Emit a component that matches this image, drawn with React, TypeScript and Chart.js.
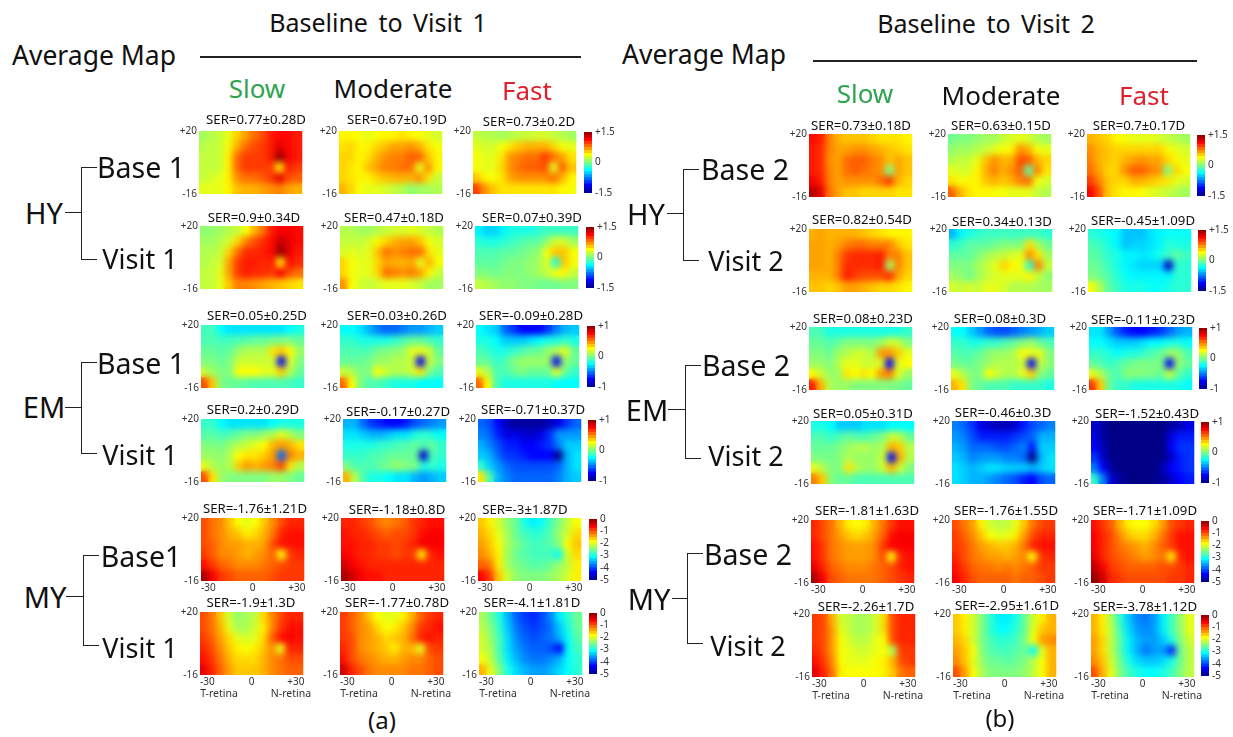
import React, { useEffect, useRef } from "react";
import { Chart, registerables } from "chart.js";
Chart.register(...registerables);

const FONT = '"Noto Sans", sans-serif';
const xCells = [-32.1, -26.25, -20.4, -14.6, -8.75, -2.9, 2.9, 8.75, 14.6, 20.4, 26.25, 32.1];
const yCells = [17, 11, 5, -1, -7, -13];

const hyLevels = [-1.5, -1.35, -1.2, -1.05, -0.9, -0.75, -0.6, -0.45, -0.3, -0.15, 0, 0.15, 0.3, 0.45, 0.6, 0.75, 0.9, 1.05, 1.2, 1.35, 1.5];
const emLevels = [-1, -0.9, -0.8, -0.7, -0.6, -0.5, -0.4, -0.3, -0.2, -0.1, 0, 0.1, 0.2, 0.3, 0.4, 0.5, 0.6, 0.7, 0.8, 0.9, 1];
const myLevels = [-5, -4.75, -4.5, -4.25, -4, -3.75, -3.5, -3.25, -3, -2.75, -2.5, -2.25, -2, -1.75, -1.5, -1.25, -1, -0.75, -0.5, -0.25, 0];
const hyTicks = [1.5, 0, -1.5];
const emTicks = [1, 0, -1];
const myTicks = [0, -1, -2, -3, -4, -5];

const a1 = [[.1,.15,.2,.3,.5,.65,.8,.9,1.05,1.1,1.1,1.05],[.15,.2,.2,.35,.6,.8,.9,.95,1.05,1.2,1.1,1.05],[.2,.2,.2,.4,.8,.95,.95,.95,1.05,1.45,1.15,1.05],[.2,.2,.2,.4,.8,.95,.95,.95,.95,.45,1.05,.95],[.2,.25,.3,.4,.7,.8,.8,.85,.95,1.2,.9,.85],[.3,.3,.3,.4,.55,.6,.6,.65,.7,.75,.65,.6]];
const a2 = [[.4,.4,.35,.3,.35,.4,.4,.45,.4,.35,.3,.25],[.45,.5,.4,.4,.5,.55,.65,.65,.7,.6,.45,.35],[.5,.5,.4,.45,.6,.7,.75,.75,.85,.85,.55,.4],[.5,.45,.4,.55,.65,.75,.75,.8,.8,.3,.7,.4],[.5,.45,.4,.4,.5,.55,.6,.6,.6,.7,.45,.2],[.6,.5,.35,.3,.3,.25,.2,.15,.05,.1,.1,.15]];
const a3 = [[.2,.15,.15,.1,.15,.2,.2,.25,.25,.2,.15,.1],[.3,.25,.25,.35,.45,.55,.6,.6,.6,.5,.35,.3],[.35,.3,.3,.45,.7,.75,.8,.8,.95,.8,.65,.45],[.35,.3,.3,.5,.7,.8,.85,.85,.9,.3,.85,.55],[.55,.4,.35,.45,.65,.7,.7,.7,.7,.8,.6,.4],[.95,.7,.55,.45,.45,.45,.45,.45,.45,.45,.4,.35]];
const a4 = [[.05,.05,.1,.15,.2,.35,.6,.8,1.05,1.15,1.15,1.1],[.1,.1,.15,.25,.5,.75,.9,1,1.1,1.3,1.2,1.1],[.15,.15,.2,.5,.8,1,1,1.05,1.1,1.45,1.2,1.05],[.15,.2,.25,.65,.95,1.05,1.05,1,1.05,.45,1.1,1],[.2,.2,.3,.65,.95,1.05,1,1,.95,1.15,.9,.8],[.2,.2,.3,.55,.75,.75,.7,.65,.6,.55,.5,.45]];
const a5 = [[.15,.15,.1,.1,.15,.2,.25,.25,.3,.25,.2,.15],[.2,.2,.2,.25,.4,.5,.6,.65,.65,.55,.35,.25],[.25,.3,.25,.3,.55,.8,.7,.75,.8,.8,.45,.3],[.5,.35,.3,.3,.5,.65,.6,.6,.65,.3,.6,.35],[.5,.35,.3,.3,.5,.8,.75,.7,.75,.65,.4,.2],[.7,.35,.25,.2,.25,.3,.3,.3,.25,.2,.1,.1]];
const a6 = [[-.4,-.5,-.5,-.4,-.3,-.3,-.3,-.25,-.2,-.2,-.2,-.2],[-.25,-.3,-.3,-.25,-.2,-.15,-.1,-.1,.05,.25,.25,.1],[-.15,-.15,-.15,-.1,-.1,-.05,0,.05,.35,.55,.55,.35],[-.1,-.1,-.1,-.05,0,0,.05,.1,.3,-.3,.55,.35],[0,0,-.05,0,0,0,.05,.1,.2,.35,.4,.2],[.2,.15,.1,.05,.05,0,0,-.05,-.05,-.05,0,0]];
const a7 = [[-.12,-.12,-.25,-.3,-.3,-.3,-.3,-.3,-.3,-.3,-.25,-.2],[-.1,-.1,-.12,-.12,-.1,-.08,-.05,-.05,-.02,0,0,-.05],[-.05,-.05,-.08,-.05,.05,.1,.1,.1,.3,.35,.25,.05],[0,0,-.05,0,.15,.15,.15,.15,.15,-.75,.2,0],[.15,.05,0,0,.25,.25,.25,.2,.2,.35,.1,-.05],[.6,.35,0,-.05,-.05,-.08,-.1,-.1,-.1,-.1,-.12,-.15]];
const a8 = [[-.25,-.25,-.3,-.4,-.5,-.55,-.55,-.5,-.45,-.45,-.4,-.35],[-.15,-.15,-.2,-.2,-.2,-.2,-.15,-.1,-.05,-.05,-.1,-.15],[-.1,-.1,-.1,-.1,-.02,0,.02,.05,.2,.2,.15,-.05],[-.05,-.05,-.05,-.02,.05,.05,.1,.1,.15,-.75,.15,0],[.15,.1,0,0,.25,.15,.1,.1,.15,.3,0,-.1],[.55,.25,0,-.1,-.1,-.15,-.2,-.2,-.2,-.25,-.25,-.25]];
const a9 = [[-.25,-.3,-.35,-.55,-.65,-.75,-.75,-.75,-.65,-.5,-.4,-.35],[-.2,-.2,-.25,-.35,-.35,-.35,-.3,-.25,-.2,-.2,-.15,-.2],[-.1,-.15,-.2,-.2,-.15,-.1,-.05,-.05,.05,.1,.2,-.05],[-.05,-.05,-.15,-.1,0,.05,.05,.05,.05,-.75,.05,-.05],[.2,.1,-.1,-.1,-.05,0,-.05,-.05,-.05,.2,-.05,-.15],[.55,.25,-.1,-.2,-.2,-.2,-.2,-.2,-.2,-.25,-.25,-.25]];
const a10 = [[-.15,-.15,-.25,-.3,-.3,-.3,-.3,-.3,-.25,-.2,-.2,-.2],[-.08,-.08,-.12,-.1,-.05,0,0,.05,.1,.2,.1,0],[0,0,-.02,.05,.1,.15,.2,.25,.4,.45,.4,.3],[.05,.05,.02,.1,.25,.3,.3,.35,.45,-.55,.5,.4],[.2,.1,.05,.1,.35,.45,.4,.45,.5,.6,.3,.1],[.6,.3,.05,0,0,0,0,0,.05,.05,0,-.05]];
const a11 = [[-.4,-.4,-.55,-.65,-.7,-.75,-.75,-.7,-.6,-.55,-.5,-.45],[-.3,-.3,-.35,-.4,-.4,-.35,-.3,-.3,-.2,-.15,-.2,-.25],[-.2,-.2,-.2,-.2,-.15,-.15,-.1,-.1,-.05,-.1,-.05,-.15],[-.15,-.15,-.15,-.1,-.1,-.05,-.05,-.05,-.05,-.85,-.1,-.15],[0,-.1,-.1,-.1,-.05,0,.05,0,0,-.2,-.15,-.2],[.4,.1,-.1,-.2,-.2,-.25,-.3,-.3,-.4,-.45,-.4,-.35]];
const a12 = [[-.55,-.6,-.75,-.9,-.95,-.95,-.95,-.95,-.9,-.8,-.65,-.55],[-.5,-.55,-.7,-.8,-.8,-.85,-.85,-.8,-.65,-.45,-.45,-.45],[-.4,-.5,-.6,-.7,-.7,-.75,-.75,-.7,-.65,-.5,-.35,-.35],[-.35,-.4,-.55,-.65,-.65,-.7,-.75,-.75,-.75,-1,-.4,-.3],[-.15,-.35,-.45,-.55,-.6,-.6,-.6,-.6,-.6,-.55,-.4,-.3],[.3,-.1,-.4,-.5,-.55,-.55,-.55,-.55,-.55,-.5,-.4,-.35]];
const a13 = [[-1,-1.2,-1.3,-1.6,-1.9,-2,-1.9,-1.6,-1.3,-1,-.8,-.8],[-1,-1.2,-1.3,-1.5,-1.6,-1.8,-1.7,-1.5,-1.2,-.8,-.7,-.7],[-1,-1.1,-1.3,-1.4,-1.4,-1.5,-1.5,-1.4,-1,-.7,-.7,-.7],[-.9,-1.1,-1.3,-1.3,-1.4,-1.5,-1.4,-1.3,-1.1,-1.9,-.9,-.8],[-.7,-.9,-1.1,-1.2,-1.3,-1.3,-1.3,-1.2,-1.1,-1,-.9,-.9],[-.2,-.6,-.9,-1,-1.1,-1.1,-1.1,-1.1,-1,-.9,-.9,-.9]];
const a14 = [[-.8,-.8,-.9,-1,-1.2,-1.3,-1.2,-1.1,-.9,-.8,-.7,-.7],[-.7,-.8,-.8,-.9,-1,-1.1,-1,-1,-.9,-.7,-.6,-.6],[-.7,-.7,-.8,-.8,-.9,-.9,-1,-.9,-.8,-.6,-.6,-.6],[-.6,-.7,-.8,-.8,-.9,-.9,-1,-.9,-.9,-1.8,-.8,-.7],[-.4,-.6,-.7,-.8,-.8,-.8,-.8,-.8,-.8,-.8,-.8,-.8],[-.2,-.4,-.6,-.7,-.7,-.8,-.8,-.8,-.8,-.8,-.8,-.8]];
const a15 = [[-1.6,-1.8,-2.1,-2.4,-2.6,-3,-3.2,-3.1,-2.8,-2.5,-2.2,-1.9],[-1.5,-1.7,-2,-2.3,-2.6,-2.8,-2.9,-2.9,-2.7,-2.4,-2.1,-1.7],[-1.4,-1.6,-1.9,-2.3,-2.5,-2.7,-2.8,-2.8,-2.7,-2.5,-1.9,-1.6],[-1.3,-1.5,-1.8,-2.3,-2.6,-2.7,-2.8,-2.8,-2.8,-3.1,-2.1,-1.7],[-1.1,-1.2,-1.8,-2.3,-2.5,-2.6,-2.7,-2.7,-2.6,-2.4,-2.2,-1.8],[-.6,-.9,-1.6,-2.1,-2.4,-2.5,-2.5,-2.5,-2.4,-2.3,-2.1,-1.8]];
const a16 = [[-1,-1.2,-1.6,-2.1,-2.4,-2.3,-2.2,-1.7,-1.3,-1,-.8,-.8],[-1,-1.2,-1.5,-2,-2.3,-2.3,-2.1,-1.8,-1.3,-.9,-.7,-.7],[-.9,-1.1,-1.4,-1.7,-2,-2.1,-2,-1.7,-1.1,-.7,-.6,-.7],[-.8,-1,-1.3,-1.6,-1.8,-1.9,-1.8,-1.6,-1.3,-2,-.8,-.8],[-.7,-.9,-1.2,-1.5,-1.7,-1.7,-1.7,-1.5,-1.3,-1.2,-1,-1],[-.5,-.8,-1.1,-1.4,-1.6,-1.6,-1.6,-1.5,-1.3,-1.2,-1.1,-1.1]];
const a17 = [[-.9,-1.1,-1.3,-1.6,-1.9,-2,-2,-1.8,-1.5,-1.1,-.9,-.8],[-.9,-1.1,-1.3,-1.4,-1.7,-1.9,-1.8,-1.6,-1.3,-.9,-.8,-.7],[-.9,-1,-1.3,-1.4,-1.5,-1.7,-1.6,-1.5,-1.2,-.8,-.7,-.8],[-.8,-1,-1.3,-1.4,-1.5,-1.6,-1.8,-1.5,-1.5,-2,-1,-.9],[-.7,-1,-1.2,-1.3,-1.4,-1.5,-1.5,-1.4,-1.3,-1.3,-1.1,-1],[-.4,-.8,-1,-1.2,-1.3,-1.3,-1.3,-1.3,-1.2,-1.2,-1.1,-1]];
const a18 = [[-2.3,-2.6,-3,-3.5,-3.9,-4.1,-4.2,-4,-3.7,-3.2,-2.9,-2.6],[-2.2,-2.5,-2.9,-3.4,-3.8,-4,-4.1,-4,-3.8,-3.4,-3,-2.6],[-2.1,-2.4,-2.8,-3.3,-3.7,-3.9,-4,-3.9,-3.8,-3.5,-3.1,-2.7],[-2.1,-2.3,-2.8,-3.3,-3.6,-3.8,-3.9,-3.9,-4,-4.4,-3.1,-2.8],[-1.9,-2.2,-2.7,-3.2,-3.5,-3.7,-3.8,-3.8,-3.7,-3.5,-3.1,-2.9],[-1.5,-2,-2.5,-3,-3.3,-3.5,-3.6,-3.6,-3.5,-3.3,-3.1,-2.9]];

const b1 = [[1.1,1.05,.75,.6,.55,.55,.55,.5,.45,.45,.45,.4],[1.05,1,.75,.65,.65,.7,.7,.65,.6,.55,.5,.45],[1.05,1,.7,.65,.8,.85,.85,.75,.7,.55,.65,.55],[1.05,1,.75,.65,.8,.85,.8,.75,.7,0,.65,.55],[1.15,1.05,.75,.65,.7,.7,.7,.7,.8,.95,.6,.5],[1.35,1.2,.8,.65,.55,.55,.5,.5,.5,.5,.45,.45]];
const b2 = [[-.05,0,0,.05,.1,.1,.2,.25,.3,.25,.15,.1],[.05,.1,.1,.15,.2,.3,.35,.4,.7,.6,.35,.3],[.15,.2,.2,.3,.55,.7,.6,.6,.9,.85,.6,.5],[.3,.25,.25,.4,.6,.75,.6,.7,.85,-.1,.75,.45],[.45,.35,.4,.4,.55,.6,.55,.6,.75,.8,.35,.25],[.85,.6,.45,.4,.4,.35,.35,.3,.3,.3,.2,.15]];
const b3 = [[.6,.55,.5,.4,.35,.3,.3,.3,.25,.2,.15,.1],[.7,.6,.55,.5,.5,.5,.5,.5,.5,.4,.3,.25],[.75,.6,.55,.5,.6,.65,.7,.65,.65,.5,.4,.3],[.8,.65,.5,.5,.7,.85,.85,.75,.7,0,.5,.35],[.95,.75,.55,.5,.5,.6,.6,.55,.5,.45,.3,.25],[1.15,.9,.55,.45,.4,.4,.35,.3,.25,.2,.15,.1]];
const b4 = [[.6,.65,.6,.6,.6,.6,.55,.5,.45,.4,.4,.4],[.65,.65,.6,.65,.75,.8,.8,.75,.75,.75,.55,.45],[.65,.65,.6,.75,.95,1,1,1,1.05,.75,.75,.55],[.65,.65,.6,.75,1,1,1,1,1.05,.1,.75,.55],[.6,.6,.6,.75,1.05,.95,.9,.9,.9,1,.65,.5],[.55,.55,.5,.55,.65,.65,.6,.55,.5,.5,.45,.4]];
const b5 = [[-.6,-.4,-.3,-.25,-.2,-.2,-.2,-.2,-.2,-.2,-.2,-.25],[-.25,-.2,-.1,-.1,-.1,-.05,0,0,0,.45,.1,-.05],[-.1,-.1,-.1,0,.1,.15,.2,.25,.3,.7,.45,.1],[0,0,0,.1,.2,.3,.5,.4,.35,-.25,.75,.2],[.1,.05,-.05,.1,.2,.25,.3,.3,.3,.4,.2,.05],[.25,.2,.25,.2,.3,.3,.25,.15,.15,.15,.1,.1]];
const b6 = [[-.25,-.3,-.35,-.4,-.55,-.55,-.55,-.45,-.4,-.35,-.35,-.35],[-.15,-.2,-.3,-.4,-.55,-.5,-.5,-.45,-.4,-.25,-.3,-.3],[-.1,-.15,-.25,-.3,-.4,-.4,-.45,-.4,-.3,-.2,-.1,-.2],[-.05,-.1,-.2,-.3,-.4,-.45,-.5,-.5,-.5,-1.3,-.25,-.25],[0,-.05,-.15,-.25,-.35,-.4,-.4,-.4,-.4,-.4,-.25,-.25],[.35,.15,-.1,-.2,-.3,-.3,-.3,-.35,-.35,-.3,-.25,-.25]];
const b7 = [[-.1,-.12,-.2,-.2,-.2,-.2,-.2,-.2,-.2,-.2,-.2,-.15],[-.05,-.05,-.1,-.05,0,0,0,0,.05,.15,.15,0],[0,0,-.05,.05,.1,.15,.15,.1,.45,.45,.35,.2],[.05,.05,0,.1,.2,.2,.15,.15,.2,-.75,.2,.25],[.25,.15,.05,.05,.3,.25,.3,.25,.45,.5,.2,.05],[.7,.4,.1,.05,.05,0,0,0,0,0,-.02,-.05]];
const b8 = [[-.25,-.25,-.35,-.45,-.55,-.6,-.6,-.55,-.5,-.45,-.4,-.35],[-.15,-.15,-.2,-.2,-.15,-.15,-.1,-.05,0,.05,-.05,-.1],[-.08,-.1,-.1,-.05,.02,.05,.05,.1,.25,.2,.2,0],[-.02,-.05,-.05,0,.05,.1,.1,.1,.15,-.75,.15,.02],[.2,.1,0,0,.25,.15,.1,.1,.2,.35,.02,-.05],[.4,.3,0,-.05,-.1,-.1,-.1,-.15,-.15,-.15,-.15,-.2]];
const b9 = [[-.3,-.3,-.45,-.6,-.7,-.75,-.75,-.7,-.65,-.55,-.45,-.4],[-.25,-.25,-.3,-.35,-.35,-.35,-.3,-.25,-.25,-.2,-.2,-.25],[-.15,-.15,-.2,-.25,-.2,-.2,-.15,-.1,-.05,.05,.05,-.1],[-.05,-.1,-.15,-.1,-.05,-.02,0,-.02,0,-.75,.05,-.05],[.2,.1,-.05,-.1,.02,.02,0,0,-.05,.15,-.05,-.15],[.65,.35,-.05,-.15,-.15,-.2,-.2,-.2,-.2,-.2,-.2,-.25]];
const b10 = [[-.2,-.2,-.25,-.35,-.35,-.35,-.3,-.3,-.3,-.25,-.25,-.25],[-.1,-.1,-.15,-.1,-.05,-.1,-.1,-.05,0,.15,.1,-.05],[-.05,-.05,-.05,0,.05,.1,.1,.05,.1,.4,.35,.1],[0,-.02,-.02,.02,.1,.05,.05,.05,.15,-.75,.4,.1],[.2,.1,0,0,.3,.1,.05,.05,.15,.4,.15,0],[.5,.35,0,-.05,-.05,-.1,-.1,-.1,-.1,-.1,-.1,-.1]];
const b11 = [[-.5,-.55,-.65,-.8,-.85,-.9,-.9,-.85,-.7,-.6,-.55,-.5],[-.45,-.5,-.6,-.7,-.7,-.7,-.7,-.65,-.6,-.55,-.4,-.4],[-.4,-.45,-.55,-.55,-.55,-.6,-.6,-.55,-.5,-.7,-.35,-.35],[-.35,-.4,-.5,-.45,-.45,-.45,-.5,-.5,-.55,-1.1,-.4,-.3],[-.3,-.35,-.4,-.35,-.3,-.3,-.35,-.35,-.35,-.4,-.35,-.3],[-.3,-.35,-.4,-.4,-.45,-.5,-.55,-.6,-.7,-.75,-.6,-.55]];
const b12 = [[-.85,-.95,-1,-1,-1,-1,-1,-1,-1,-.95,-.9,-.8],[-.8,-.95,-1,-1,-1,-1,-1,-1,-1,-.8,-.7,-.7],[-.75,-.9,-1,-1,-1,-1,-1,-1,-1,-.75,-.65,-.65],[-.65,-.85,-1,-1,-1,-1,-1,-1,-1,-.85,-.7,-.65],[-.5,-.75,-.95,-1,-1,-1,-1,-1,-.9,-.75,-.7,-.65],[-.15,-.5,-.85,-.95,-1,-1,-1,-1,-.95,-.85,-.75,-.7]];
const b13 = [[-.8,-1,-1.2,-1.5,-1.8,-1.9,-1.8,-1.5,-1.2,-.9,-.7,-.7],[-.8,-1,-1.2,-1.4,-1.6,-1.7,-1.6,-1.4,-1.1,-.7,-.6,-.6],[-.7,-.9,-1.2,-1.3,-1.4,-1.4,-1.4,-1.3,-.9,-.6,-.6,-.6],[-.7,-.9,-1.2,-1.3,-1.4,-1.4,-1.4,-1.3,-1,-1.9,-.8,-.7],[-.5,-.8,-1.1,-1.2,-1.3,-1.3,-1.3,-1.2,-1.1,-1,-.8,-.7],[-.2,-.6,-1,-1.1,-1.2,-1.2,-1.2,-1.2,-1.1,-1,-.9,-.8]];
const b14 = [[-1,-1.2,-1.4,-1.8,-2.1,-2.2,-2.2,-2,-1.6,-1.2,-1,-.9],[-.9,-1.1,-1.3,-1.6,-1.9,-2,-2,-1.8,-1.4,-1,-.8,-.8],[-.9,-1,-1.2,-1.4,-1.5,-1.6,-1.6,-1.5,-1.2,-.8,-.7,-.7],[-.8,-1,-1.2,-1.3,-1.4,-1.4,-1.5,-1.4,-1.3,-1.9,-.9,-.8],[-.7,-.9,-1.1,-1.2,-1.2,-1.3,-1.2,-1.3,-1.2,-1.1,-.9,-.9],[-.6,-.8,-1,-1.1,-1.1,-1.1,-1.1,-1.2,-1.1,-1.1,-1,-.9]];
const b15 = [[-.7,-.9,-1.1,-1.5,-1.8,-1.9,-1.9,-1.7,-1.4,-1,-.9,-.8],[-.6,-.8,-1,-1.3,-1.6,-1.7,-1.7,-1.5,-1.2,-.9,-.7,-.7],[-.6,-.8,-1,-1.2,-1.3,-1.4,-1.5,-1.3,-1.1,-.9,-.7,-.7],[-.5,-.8,-1,-1.1,-1.2,-1.3,-1.4,-1.3,-1.2,-1.8,-.8,-.7],[-.3,-.6,-.9,-1,-1.1,-1.1,-1.1,-1.1,-1,-1,-.9,-.8],[-.1,-.4,-.8,-.9,-1,-1,-1,-1,-1,-.9,-.9,-.8]];
const b16 = [[-.9,-1,-1.5,-2.1,-2.2,-2.3,-2.3,-2.1,-1.7,-1,-.8,-.8],[-.9,-1,-1.4,-2,-2.2,-2.3,-2.3,-2.1,-1.7,-1,-.8,-.8],[-.9,-1,-1.4,-1.9,-2.1,-2.2,-2.2,-2,-1.9,-1,-.8,-.8],[-.8,-1,-1.4,-1.9,-2,-2.1,-2.1,-2,-1.9,-2.3,-.9,-.9],[-.7,-.9,-1.3,-1.9,-2,-2,-2,-1.9,-1.8,-1.5,-1,-.9],[-.5,-.8,-1.2,-1.8,-1.9,-1.9,-1.9,-1.9,-1.8,-1.6,-1.2,-1.1]];
const b17 = [[-1.6,-1.8,-2.1,-2.5,-2.9,-3.2,-3.2,-3,-2.6,-2.1,-1.8,-1.5],[-1.6,-1.8,-2.1,-2.5,-2.9,-3.1,-3.1,-2.9,-2.6,-2,-1.6,-1.5],[-1.5,-1.7,-2.1,-2.5,-2.8,-2.9,-2.9,-2.8,-2.5,-1.9,-1.4,-1.3],[-1.4,-1.6,-1.9,-2.5,-2.7,-2.8,-2.8,-2.7,-2.6,-3.1,-2,-1.5],[-1.3,-1.6,-2,-2.4,-2.6,-2.6,-2.7,-2.6,-2.5,-2.2,-1.9,-1.5],[-1,-1.4,-1.9,-2.3,-2.5,-2.5,-2.5,-2.5,-2.4,-2.2,-1.9,-1.5]];
const b18 = [[-1.5,-1.8,-2.3,-2.9,-3.4,-3.7,-3.8,-3.6,-3.2,-2.8,-2.4,-2],[-1.5,-1.8,-2.2,-2.8,-3.3,-3.6,-3.7,-3.6,-3.2,-2.8,-2.4,-2],[-1.4,-1.7,-2.2,-2.7,-3.2,-3.5,-3.6,-3.6,-3.4,-3,-2.5,-2.1],[-1.4,-1.7,-2.2,-2.7,-3.2,-3.5,-3.8,-3.6,-3.6,-4.2,-2.6,-2.2],[-1.3,-1.6,-2.1,-2.6,-3,-3.3,-3.4,-3.4,-3.3,-3,-2.6,-2.2],[-1,-1.5,-2,-2.5,-2.8,-3,-3.1,-3.1,-3,-2.8,-2.5,-2.2]];

const grids = [a1,a2,a3,a4,a5,a6,a7,a8,a9,a10,a11,a12,a13,a14,a15,a16,a17,a18,b1,b2,b3,b4,b5,b6,b7,b8,b9,b10,b11,b12,b13,b14,b15,b16,b17,b18];
const serLabels = [
  "SER=0.77±0.28D","SER=0.67±0.19D","SER=0.73±0.2D","SER=0.9±0.34D","SER=0.47±0.18D","SER=0.07±0.39D",
  "SER=0.05±0.25D","SER=0.03±0.26D","SER=-0.09±0.28D","SER=0.2±0.29D","SER=-0.17±0.27D","SER=-0.71±0.37D",
  "SER=-1.76±1.21D","SER=-1.18±0.8D","SER=-3±1.87D","SER=-1.9±1.3D","SER=-1.77±0.78D","SER=-4.1±1.81D",
  "SER=0.73±0.18D","SER=0.63±0.15D","SER=0.7±0.17D","SER=0.82±0.54D","SER=0.34±0.13D","SER=-0.45±1.09D",
  "SER=0.08±0.23D","SER=0.08±0.3D","SER=-0.11±0.23D","SER=0.05±0.31D","SER=-0.46±0.3D","SER=-1.52±0.43D",
  "SER=-1.81±1.63D","SER=-1.76±1.55D","SER=-1.71±1.09D","SER=-2.26±1.7D","SER=-2.95±1.61D","SER=-3.78±1.12D",
];
const mapXY = [
  [199,131],[339,131],[473,131],[200,226],[340,226],[475,226],
  [201,325],[340,325],[476,325],[201,419],[343,419],[478,419],
  [201,518],[341,518],[478,518],[200,612],[340,612],[479,612],
  [809,134],[948,134],[1087,134],[809,229],[949,229],[1088,229],
  [809,327],[951,327],[1089,327],[811,421],[952,421],[1091,421],
  [811,520],[952,520],[1091,520],[812,614],[953,614],[1091,614],
];
const serXY = [
  [256,120],[397,120],[529,122],[254,218],[394,218],[532,218],
  [257,316],[397,316],[531,316],[253,410],[398,412],[533,410],
  [255,509],[397,510],[525,510],[251,603],[397,603],[532,603],
  [861,126],[1001,126],[1139,126],[862,220],[1002,222],[1143,221],
  [863,319],[1000,319],[1143,320],[863,414],[1003,413],[1147,414],
  [867,511],[1006,511],[1145,511],[866,607],[1007,606],[1145,607],
];
const barXY = [
  [584,131],[586,226],[587,325],[588,419],[589,518],[589,612],
  [1197,134],[1198,229],[1199,327],[1201,421],[1201,520],[1201,614],
];

const jetStops: [number, number[]][] = [
  [0,[0,0,135]],[0.125,[0,0,255]],[0.375,[0,255,255]],[0.5,[128,255,128]],[0.625,[255,255,0]],[0.875,[255,0,0]],[1,[128,0,0]],
];
function jet(t: number) {
  const c = Math.max(0, Math.min(1, t));
  for (let i = 1; i < jetStops.length; i++) {
    const [t1, a] = jetStops[i - 1];
    const [t2, b] = jetStops[i];
    if (c <= t2) {
      const f = (c - t1) / (t2 - t1);
      return `rgb(${a.map((v, k) => Math.round(v + (b[k] - v) * f)).join(",")})`;
    }
  }
  return "rgb(128,0,0)";
}
const fmtTick = (v: any) => (Number(v) > 0 ? `+${v}` : `${v}`);

const blurPlugin = {
  id: "softCells",
  afterDatasetsDraw(chart: any) {
    const { ctx, chartArea: a, canvas } = chart;
    const w = a.right - a.left;
    const h = a.bottom - a.top;
    ctx.save();
    ctx.beginPath();
    ctx.rect(a.left, a.top, w, h);
    ctx.clip();
    ctx.filter = "blur(3.2px)";
    ctx.drawImage(canvas, a.left, a.top, w, h, a.left, a.top, w, h);
    ctx.restore();
  },
};

const LM = 24, TM = 8, RM = 6, BM = 16, MW = 105, MH = 63;

function HeatMap({ grid, levels, x, y, showX }: any) {
  const ref = useRef<HTMLCanvasElement>(null);
  useEffect(() => {
    const lo = levels[0];
    const hi = levels[levels.length - 1];
    const points: any[] = [];
    const colors: string[] = [];
    grid.forEach((row: number[], j: number) =>
      row.forEach((v: number, i: number) => {
        points.push({ x: xCells[i], y: yCells[j] });
        colors.push(jet((v - lo) / (hi - lo)));
      })
    );
    const tickFont = { size: 10, family: FONT };
    const chart = new Chart(ref.current!, {
      type: "scatter",
      data: { datasets: [{ data: points, pointStyle: "rect", pointRadius: 7.8, pointBorderWidth: 0, pointBackgroundColor: colors, clip: 0 } as any] },
      plugins: [blurPlugin],
      options: {
        animation: false, responsive: false, events: [],
        layout: { padding: { top: TM, right: RM, left: 0, bottom: 0 } },
        plugins: { legend: { display: false }, tooltip: { enabled: false } },
        scales: {
          x: {
            type: "linear", min: -35, max: 35, grid: { display: false, drawTicks: false }, border: { display: false },
            afterBuildTicks: (s: any) => { s.ticks = [{ value: -30 }, { value: 0 }, { value: 30 }]; },
            afterFit: (s: any) => { s.height = BM; },
            ticks: { display: showX, callback: fmtTick, maxRotation: 0, autoSkip: false, font: tickFont, color: "#333", padding: 1 },
          },
          y: {
            type: "linear", min: -16, max: 20, grid: { display: false, drawTicks: false }, border: { display: false },
            afterBuildTicks: (s: any) => { s.ticks = [{ value: 20 }, { value: -16 }]; },
            afterFit: (s: any) => { s.width = LM; },
            ticks: { callback: fmtTick, autoSkip: false, font: tickFont, color: "#333", padding: 2 },
          },
        },
      } as any,
    });
    return () => chart.destroy();
  }, []);
  return (
    <canvas ref={ref} width={LM + MW + RM} height={TM + MH + BM}
      style={{ position: "absolute", left: x - LM, top: y - TM, width: LM + MW + RM, height: TM + MH + BM }} />
  );
}

function ColorBar({ levels, ticks, x, y }: any) {
  const ref = useRef<HTMLCanvasElement>(null);
  useEffect(() => {
    const lo = levels[0];
    const hi = levels[levels.length - 1];
    const datasets = levels.slice(1).map((top: number, i: number) => ({
      data: [[levels[i], top]],
      backgroundColor: jet(((levels[i] + top) / 2 - lo) / (hi - lo)),
      grouped: false, barPercentage: 1, categoryPercentage: 1, borderWidth: 0,
    }));
    const chart = new Chart(ref.current!, {
      type: "bar",
      data: { labels: [""], datasets },
      options: {
        animation: false, responsive: false, events: [],
        layout: { padding: { top: 8, bottom: 8, left: 0, right: 0 } },
        plugins: { legend: { display: false }, tooltip: { enabled: false } },
        scales: {
          x: { display: false },
          y: {
            type: "linear", position: "right", min: lo, max: hi, grid: { display: false, drawTicks: false }, border: { display: false },
            afterBuildTicks: (s: any) => { s.ticks = ticks.map((value: number) => ({ value })); },
            afterFit: (s: any) => { s.width = 28; },
            ticks: { callback: fmtTick, autoSkip: false, font: { size: 10, family: FONT }, color: "#333", padding: 3 },
          },
        },
      } as any,
    });
    return () => chart.destroy();
  }, []);
  return (
    <canvas ref={ref} width={36} height={79}
      style={{ position: "absolute", left: x, top: y - 8, width: 36, height: 79 }} />
  );
}

function Txt({ x, y, size, color = "#111", children, spacing }: any) {
  return (
    <div style={{ position: "absolute", left: x, top: y, transform: "translate(-50%,-50%)", fontFamily: FONT, fontSize: size, color, whiteSpace: "pre", lineHeight: 1, wordSpacing: spacing }}>
      {children}
    </div>
  );
}
function Line({ x, y, w, h }: any) {
  return <div style={{ position: "absolute", left: x, top: y, width: w, height: h, background: "#222" }} />;
}
function Bracket({ x, top, bottom, mid, l, r }: any) {
  return (
    <>
      <Line x={x} y={top} w={1} h={bottom - top + 1} />
      <Line x={x} y={top} w={r} h={1} />
      <Line x={x} y={bottom} w={r} h={1} />
      <Line x={x - l} y={mid} w={l} h={1} />
    </>
  );
}

const barLevels = [hyLevels, hyLevels, emLevels, emLevels, myLevels, myLevels];
const barTicks = [hyTicks, hyTicks, emTicks, emTicks, myTicks, myTicks];

const bracketsA = [[81,167,259,212,16,16],[81,362,453,407,16,16],[83,555,645,596,17,16]];
const bracketsB = [[683,169,260,213,16,16],[685,365,458,409,17,16],[687,553,643,598,15,16]];
const rowNames: [string, number, number][] = [
  ["HY",44,212],["EM",44,406],["MY",45,596],["HY",646,213],["EM",647,409],["MY",649,598],
];
const baseNames: [string, number, number][] = [
  ["Base 1",141,167],["Base 1",141,363],["Base1",141,556],
  ["Base 2",745,169],["Base 2",746,365],["Base 2",748,554],
];
const visitNames: [string, number, number][] = [
  ["Visit 1",140,258],["Visit 1",140,454],["Visit 1",140,647],
  ["Visit 2",746,260],["Visit 2",746,455],["Visit 2",748,645],
];

export default function App() {
  return (
    <div style={{ position: "fixed", left: 0, top: 0, width: 1233, height: 737, background: "#fff", overflow: "hidden" }}>
      {grids.map((g, i) => {
        const row = Math.floor((i % 18) / 3);
        const levels = barLevels[row];
        return <HeatMap key={i} grid={g} levels={levels} x={mapXY[i][0]} y={mapXY[i][1]} showX={row >= 4} />;
      })}
      {barXY.map((p, i) => (
        <ColorBar key={i} levels={barLevels[i % 6]} ticks={barTicks[i % 6]} x={p[0]} y={p[1]} />
      ))}
      {serLabels.map((s, i) => <Txt key={i} x={serXY[i][0]} y={serXY[i][1]} size={13.2}>{s}</Txt>)}
      {mapXY.map((p, i) => (Math.floor((i % 18) / 3) === 5 ? (
        <React.Fragment key={i}>
          <Txt x={p[0] + 19} y={p[1] + 81} size={10.5} color="#333">T-retina</Txt>
          <Txt x={p[0] + 91} y={p[1] + 81} size={10.5} color="#333">N-retina</Txt>
        </React.Fragment>
      ) : null))}

      <Txt x={94} y={55} size={26.5}>Average Map</Txt>
      <Txt x={704} y={54} size={26.5}>Average Map</Txt>
      <Txt x={378} y={22} size={25} spacing={4}>Baseline to Visit 1</Txt>
      <Txt x={986} y={23} size={25} spacing={4}>Baseline to Visit 2</Txt>
      <Line x={200} y={56} w={381} h={1.5} />
      <Line x={813} y={60} w={384} h={1.5} />
      <Txt x={257} y={88} size={26} color="#2ea44f">Slow</Txt>
      <Txt x={393} y={88} size={26}>Moderate</Txt>
      <Txt x={527} y={90} size={26} color="#e01f2d">Fast</Txt>
      <Txt x={865} y={93} size={26} color="#2ea44f">Slow</Txt>
      <Txt x={1001} y={95} size={26}>Moderate</Txt>
      <Txt x={1144} y={95} size={26} color="#e01f2d">Fast</Txt>

      {rowNames.map(([s, x, y], i) => <Txt key={i} x={x} y={y} size={29}>{s}</Txt>)}
      {baseNames.map(([s, x, y], i) => <Txt key={i} x={x} y={y} size={28.5}>{s}</Txt>)}
      {visitNames.map(([s, x, y], i) => <Txt key={i} x={x} y={y} size={27}>{s}</Txt>)}
      {[...bracketsA, ...bracketsB].map(([x, top, bottom, mid, l, r], i) => (
        <Bracket key={i} x={x} top={top} bottom={bottom} mid={mid} l={l} r={r} />
      ))}
      <Txt x={382} y={720} size={24}>(a)</Txt>
      <Txt x={1000} y={718} size={24}>(b)</Txt>
    </div>
  );
}
